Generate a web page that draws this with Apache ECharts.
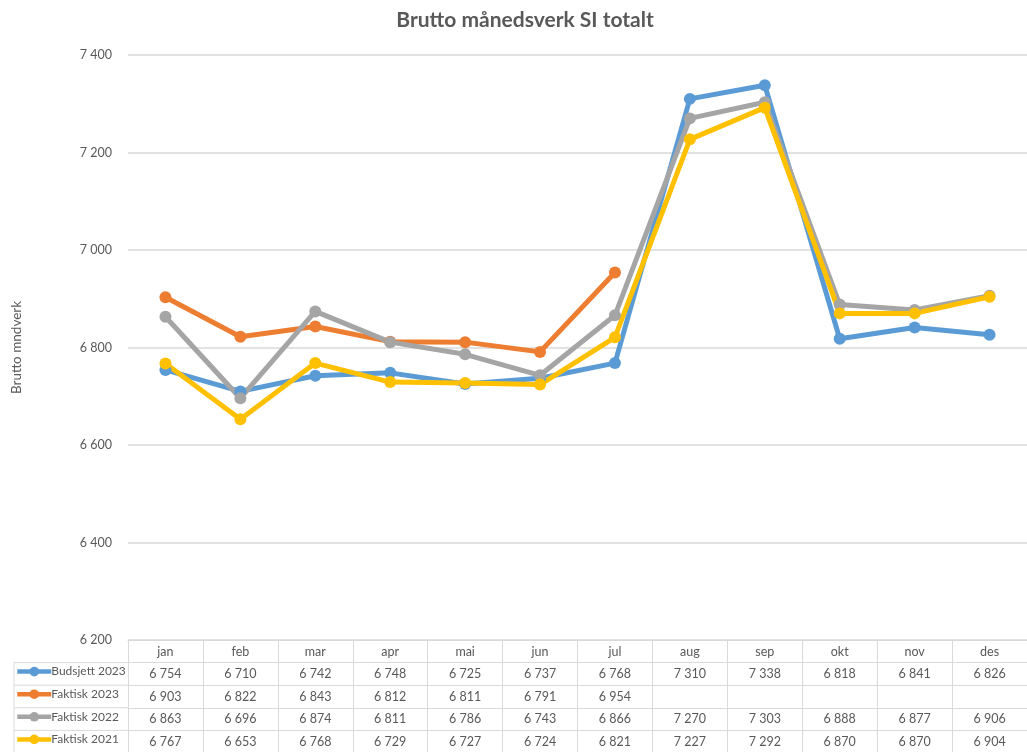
<!DOCTYPE html>
<html>
<head>
<meta charset="utf-8">
<script src="https://cdn.jsdelivr.net/npm/echarts@6/dist/echarts.min.js"></script>
<style>
  html, body { margin: 0; padding: 0; background: #fff; }
  #chart { width: 1027px; height: 752px; }
</style>
</head>
<body>
<div id="chart"></div>
<script>
const months = ['jan', 'feb', 'mar', 'apr', 'mai', 'jun', 'jul', 'aug', 'sep', 'okt', 'nov', 'des'];
const budsjett2023 = [6754, 6710, 6742, 6748, 6725, 6737, 6768, 7310, 7338, 6818, 6841, 6826];
const faktisk2023 = [6903, 6822, 6843, 6812, 6811, 6791, 6954, null, null, null, null, null];
const faktisk2022 = [6863, 6696, 6874, 6811, 6786, 6743, 6866, 7270, 7303, 6888, 6877, 6906];
const faktisk2021 = [6767, 6653, 6768, 6729, 6727, 6724, 6821, 7227, 7292, 6870, 6870, 6904];
const yTicks = [6200, 6400, 6600, 6800, 7000, 7200, 7400];

const seriesNames = ['Budsjett 2023', 'Faktisk 2023', 'Faktisk 2022', 'Faktisk 2021'];
const seriesData = [budsjett2023, faktisk2023, faktisk2022, faktisk2021];
const colors = ['#5B9BD5', '#ED7D31', '#A5A5A5', '#FFC000'];

const font = 'Lato, "Liberation Sans", sans-serif';
const textColor = '#595959';
const borderColor = '#d9d9d9';
const tableTop = 640;
const rowH = 22.6;

const fmt = v => (v == null ? '' : String(v).replace(/\B(?=(\d{3})+(?!\d))/g, ' '));

const chart = echarts.init(document.getElementById('chart'));

// header row + one x axis per data row, so the table cells line up with the categories
const xAxes = [{
  type: 'category',
  data: months,
  position: 'bottom',
  offset: 0,
  axisLine: { show: true, lineStyle: { color: borderColor, width: 1 } },
  axisTick: { show: true, length: rowH, lineStyle: { color: borderColor } },
  axisLabel: { color: textColor, fontFamily: font, fontSize: 12.5, margin: 5 }
}];
seriesData.forEach((row, i) => {
  xAxes.push({
    type: 'category',
    data: months,
    position: 'bottom',
    offset: rowH * (i + 1),
    axisLine: { show: true, lineStyle: { color: borderColor, width: 1 } },
    axisTick: { show: true, length: rowH, lineStyle: { color: borderColor } },
    axisLabel: {
      color: textColor, fontFamily: font, fontSize: 12.5, margin: 5,
      formatter: (val, idx) => fmt(row[idx])
    }
  });
});

// legend column borders
const graphics = [{
  type: 'line', shape: { x1: 14, y1: tableTop + rowH, x2: 14, y2: 760 },
  style: { stroke: borderColor, lineWidth: 1 }
}];
for (let i = 1; i <= 4; i++) {
  graphics.push({
    type: 'line',
    shape: { x1: 14, y1: tableTop + rowH * i, x2: 128, y2: tableTop + rowH * i },
    style: { stroke: borderColor, lineWidth: 1 }
  });
}

const option = {
  animation: false,
  title: {
    text: 'Brutto månedsverk SI totalt',
    left: 520, top: 5, textAlign: 'center',
    textStyle: { color: textColor, fontFamily: font, fontSize: 21, fontWeight: 'bold' }
  },
  legend: seriesNames.map((name, i) => ({
    data: [name],
    orient: 'vertical',
    left: 15,
    top: tableTop + rowH * (i + 1) + 3,
    padding: 0,
    itemWidth: 34,
    itemHeight: 12,
    selectedMode: false,
    lineStyle: { width: 4.5 },
    textStyle: { color: textColor, fontFamily: font, fontSize: 12, padding: [0, 0, 0, -5] }
  })),
  grid: { left: 128, right: -8, top: 55, bottom: 752 - tableTop, containLabel: false },
  xAxis: xAxes,
  yAxis: {
    type: 'value',
    min: yTicks[0],
    max: yTicks[yTicks.length - 1],
    interval: 200,
    name: 'Brutto mndverk',
    nameLocation: 'middle',
    nameGap: 104,
    nameRotate: 90,
    nameTextStyle: { color: textColor, fontFamily: font, fontSize: 13.5 },
    axisLine: { show: false },
    axisTick: { show: false },
    axisLabel: { color: textColor, fontFamily: font, fontSize: 12.5, margin: 16, formatter: v => fmt(v) },
    splitLine: { lineStyle: { color: borderColor, width: 1.5 } }
  },
  series: seriesNames.map((name, i) => ({
    name: name,
    type: 'line',
    data: seriesData[i],
    xAxisIndex: 0,
    symbol: 'circle',
    symbolSize: 12,
    connectNulls: false,
    itemStyle: { color: colors[i] },
    lineStyle: { color: colors[i], width: 5 },
    emphasis: { disabled: true }
  })),
  graphic: graphics
};

chart.setOption(option);
</script>
</body>
</html>
